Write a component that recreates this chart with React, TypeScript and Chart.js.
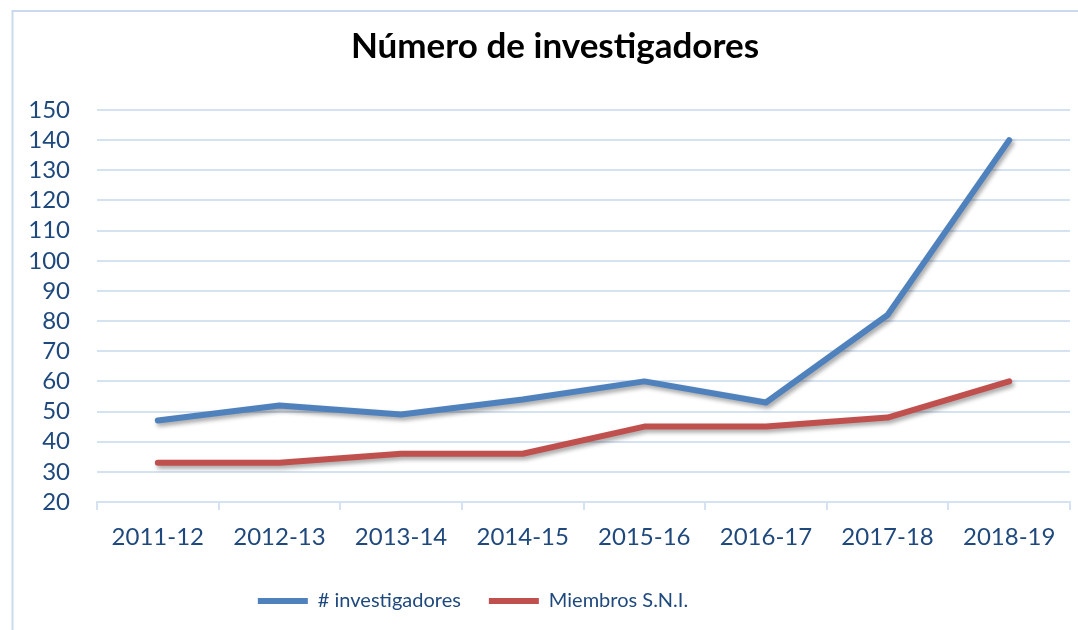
import React, { useEffect, useRef } from "react";
import { Chart, registerables } from "chart.js";

Chart.register(...registerables);

const categories = ["2011-12", "2012-13", "2013-14", "2014-15", "2015-16", "2016-17", "2017-18", "2018-19"];
const investigadores = [47, 52, 49, 54, 60, 53, 82, 140];
const miembrosSNI = [33, 33, 36, 36, 45, 45, 48, 60];
const seriesLabels = ["# investigadores", "Miembros S.N.I."];
const titleText = "Número de investigadores";

const FONT = "Lato, 'Open Sans', sans-serif";
const TEXT_BLUE = "#1F497D";
const GRID = "#D5E2F2";

const framePlugin = {
  id: "frame",
  beforeDraw(chart: any) {
    const ctx = chart.ctx;
    ctx.save();
    ctx.fillStyle = "#ffffff";
    ctx.fillRect(0, 0, chart.width, chart.height);
    ctx.strokeStyle = "#C9DAEE";
    ctx.lineWidth = 2;
    ctx.strokeRect(12.5, 11, 1400, 1000);
    ctx.restore();
    const lg = chart.legend;
    if (lg && !lg._shifted) {
      lg.left -= 62;
      lg.right -= 62;
      lg.top -= 9;
      lg.bottom -= 9;
      lg._shifted = true;
    }
    const tb = chart.titleBlock;
    if (tb && !tb._shifted) {
      tb.left += 20;
      tb.right += 20;
      tb._shifted = true;
    }
  },
};

const shadowPlugin = {
  id: "lineShadow",
  beforeDatasetsDraw(chart: any) {
    const ctx = chart.ctx;
    ctx.save();
    ctx.shadowColor = "rgba(0,0,0,0.35)";
    ctx.shadowBlur = 4;
    ctx.shadowOffsetX = 2;
    ctx.shadowOffsetY = 3;
  },
  afterDatasetsDraw(chart: any) {
    chart.ctx.restore();
  },
};

export default function App() {
  const ref = useRef<HTMLCanvasElement | null>(null);

  useEffect(() => {
    document.body.style.margin = "0";
    const canvas = ref.current;
    if (!canvas) return;
    const chart = new Chart(canvas, {
      type: "line",
      data: {
        labels: categories,
        datasets: [
          {
            label: seriesLabels[0],
            data: investigadores,
            borderColor: "#4F81BD",
            backgroundColor: "#4F81BD",
            borderWidth: 6,
            borderCapStyle: "round",
            borderJoinStyle: "round",
            pointRadius: 0,
            tension: 0,
          },
          {
            label: seriesLabels[1],
            data: miembrosSNI,
            borderColor: "#C0504D",
            backgroundColor: "#C0504D",
            borderWidth: 6,
            borderCapStyle: "round",
            borderJoinStyle: "round",
            pointRadius: 0,
            tension: 0,
          },
        ],
      },
      options: {
        responsive: false,
        animation: false,
        layout: { padding: { left: 0, right: 8, top: 0, bottom: 0 } },
        plugins: {
          title: {
            display: true,
            text: titleText,
            color: "#000000",
            font: { family: FONT, size: 35, weight: "bold" },
            padding: { top: 26, bottom: 42 },
          },
          legend: {
            display: true,
            position: "bottom",
            labels: {
              usePointStyle: true,
              pointStyle: "line",
              pointStyleWidth: 50,
              color: TEXT_BLUE,
              font: { family: FONT, size: 20 },
              padding: 28,
            },
          },
          tooltip: { enabled: false },
        },
        scales: {
          x: {
            offset: true,
            grid: {
              display: true,
              drawOnChartArea: false,
              drawTicks: true,
              tickLength: 8,
              offset: true,
              color: GRID,
              lineWidth: 2,
            },
            border: { display: true, color: GRID, width: 2 },
            ticks: {
              color: TEXT_BLUE,
              font: { family: FONT, size: 24 },
              padding: 13,
              maxRotation: 0,
              autoSkip: false,
            },
            afterFit(scale: any) {
              scale.height = 70;
            },
          },
          y: {
            min: 20,
            max: 150,
            ticks: {
              stepSize: 10,
              autoSkip: false,
              maxTicksLimit: 20,
              color: TEXT_BLUE,
              font: { family: FONT, size: 24 },
              padding: 27,
            },
            grid: { color: GRID, lineWidth: 2, drawTicks: false },
            border: { display: false },
            afterFit(scale: any) {
              scale.width = 97;
            },
          },
        },
      },
      plugins: [framePlugin, shadowPlugin],
    });
    return () => chart.destroy();
  }, []);

  return (
    <div style={{ position: "fixed", left: 0, top: 0, width: 1078, height: 630, background: "#fff" }}>
      <canvas ref={ref} width={1078} height={630} />
    </div>
  );
}
